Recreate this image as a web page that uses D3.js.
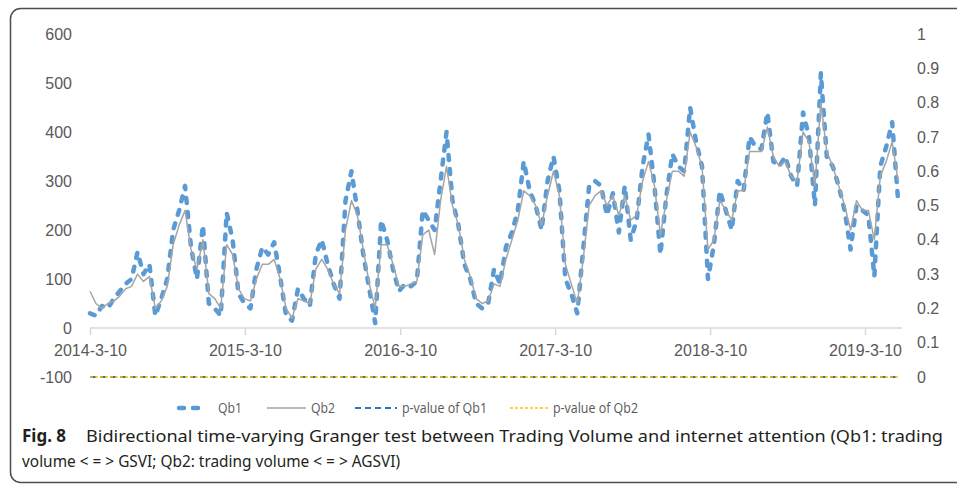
<!DOCTYPE html>
<html>
<head>
<meta charset="utf-8">
<script src="https://cdn.jsdelivr.net/npm/d3@7"></script>
<style>
  body { margin: 0; background: #fff; }
  svg { display: block; }
</style>
</head>
<body>
<div id="chart"></div>
<script>
// values, one point every two weeks from 2014-3-10
var startDate = "2014-03-10";
var stepDays = 14;

var qb1 = [30, 25, 45, 40, 60, 75, 90, 100, 155, 110, 130, 25, 60, 100, 200, 240, 290, 165, 100, 210,
  50, 40, 25, 235, 180, 70, 50, 40, 120, 165, 150, 175, 105, 25, 15, 80, 60, 45, 150, 180,
  130, 90, 60, 260, 320, 240, 150, 80, 10, 220, 180, 120, 75, 90, 85, 95, 240, 220, 200, 300,
  400, 260, 210, 130, 100, 50, 40, 50, 120, 90, 165, 195, 240, 340, 280, 250, 200, 300, 350, 280,
  100, 70, 30, 160, 290, 300, 290, 230, 275, 195, 290, 180, 220, 330, 395, 290, 150, 270, 355, 330,
  320, 450, 380, 330, 100, 170, 280, 240, 200, 300, 280, 390, 370, 365, 440, 340, 330, 350, 310, 290,
  440, 390, 250, 520, 350, 330, 290, 240, 160, 250, 240, 230, 105, 330, 370, 420, 260];

var qb2 = [75, 50, 40, 50, 55, 65, 80, 85, 110, 95, 105, 40, 55, 85, 170, 210, 240, 160, 120, 180,
  70, 60, 40, 170, 150, 80, 60, 55, 100, 130, 130, 140, 100, 40, 20, 60, 55, 50, 120, 140,
  120, 90, 70, 200, 260, 230, 160, 90, 40, 170, 170, 130, 85, 85, 90, 95, 190, 200, 150, 260,
  330, 250, 210, 140, 105, 60, 50, 55, 90, 85, 140, 180, 220, 280, 270, 250, 210, 270, 320, 270,
  130, 90, 50, 140, 250, 270, 280, 250, 270, 230, 270, 220, 230, 300, 340, 290, 190, 260, 320, 320,
  310, 400, 370, 330, 160, 180, 260, 240, 220, 280, 280, 360, 360, 360, 410, 350, 330, 340, 310, 300,
  400, 380, 290, 460, 360, 330, 290, 250, 200, 260, 240, 240, 180, 310, 340, 380, 300];

// p-values stay at 0 over the whole period
var pDates = ["2014-03-10", "2019-05-31"];
var pQb1 = [0, 0];
var pQb2 = [0, 0];

var yearTicks = ["2014-03-10", "2015-03-10", "2016-03-10", "2017-03-10", "2018-03-10", "2019-03-10"];
var leftTicks = [-100, 0, 100, 200, 300, 400, 500, 600];
var rightTicks = [0, 0.1, 0.2, 0.3, 0.4, 0.5, 0.6, 0.7, 0.8, 0.9, 1];

var svgWidth = 957;
var svgHeight = 494;

var parse = d3.timeParse("%Y-%m-%d");
var fmt = d3.timeFormat("%Y-%-m-%-d");

var svg = d3.select("#chart")
    .append("svg")
    .attr("width", svgWidth)
    .attr("height", svgHeight)
    .style("font-family", "'Open Sans', sans-serif");

// frame around figure + caption
svg.append("rect")
    .attr("x", 10.5)
    .attr("y", 8.5)
    .attr("width", 980)
    .attr("height", 474)
    .attr("rx", 10)
    .attr("fill", "none")
    .attr("stroke", "#4d4d4d")
    .attr("stroke-width", 1.5);

var x = d3.scaleTime()
    .domain([parse("2014-03-10"), parse("2019-03-10")])
    .range([90, 865]);

var yLeft = d3.scaleLinear().domain([-100, 600]).range([377, 34]);
var yRight = d3.scaleLinear().domain([0, 1]).range([377, 34]);

var s0 = parse(startDate);
var series = qb1.map(function(v, i) {
    return { date: d3.timeDay.offset(s0, i * stepDays), qb1: v, qb2: qb2[i] };
});
var pData = pDates.map(function(d, i) {
    return { date: parse(d), p1: pQb1[i], p2: pQb2[i] };
});

// x axis at value 0
var xAxis = d3.axisBottom(x)
    .tickValues(yearTicks.map(parse))
    .tickFormat(fmt)
    .tickSize(7)
    .tickSizeOuter(0);

var gx = svg.append("g")
    .attr("transform", "translate(0," + yLeft(0) + ")")
    .call(xAxis);
gx.select(".domain").remove();
gx.append("line")
    .attr("x1", 90).attr("x2", 902)
    .attr("stroke", "#d9d9d9").attr("stroke-width", 1.5);
gx.selectAll(".tick line").attr("stroke", "#d9d9d9").attr("stroke-width", 1.5);
gx.selectAll(".tick text")
    .attr("y", 17)
    .attr("fill", "#595959")
    .style("font-size", "16px");

var gl = svg.append("g")
    .attr("transform", "translate(72,0)")
    .call(d3.axisLeft(yLeft).tickValues(leftTicks).tickSize(0).tickPadding(0)
        .tickFormat(function(d) { return String(d); }));
gl.select(".domain").remove();
gl.selectAll("text").attr("fill", "#595959").style("font-size", "16px");

var gr = svg.append("g")
    .attr("transform", "translate(917,0)")
    .call(d3.axisRight(yRight).tickValues(rightTicks).tickSize(0).tickPadding(0)
        .tickFormat(function(d) { return String(+d.toFixed(1)); }));
gr.select(".domain").remove();
gr.selectAll("text").attr("fill", "#595959").style("font-size", "16px");

// p-value lines
var pLine1 = d3.line().x(function(d) { return x(d.date); }).y(function(d) { return yRight(d.p1); });
var pLine2 = d3.line().x(function(d) { return x(d.date); }).y(function(d) { return yRight(d.p2); });

svg.append("path").datum(pData)
    .attr("d", pLine1)
    .attr("fill", "none")
    .attr("stroke", "#2e75b6")
    .attr("stroke-width", 2)
    .attr("stroke-dasharray", "6,4");
svg.append("path").datum(pData)
    .attr("d", pLine2)
    .attr("fill", "none")
    .attr("stroke", "#ffc000")
    .attr("stroke-width", 1.5)
    .attr("stroke-dasharray", "3,2");

// Qb1 and Qb2
var line1 = d3.line().x(function(d) { return x(d.date); }).y(function(d) { return yLeft(d.qb1); });
var line2 = d3.line().x(function(d) { return x(d.date); }).y(function(d) { return yLeft(d.qb2); });

svg.append("path").datum(series)
    .attr("d", line1)
    .attr("fill", "none")
    .attr("stroke", "#5b9bd5")
    .attr("stroke-width", 4.5)
    .attr("stroke-linejoin", "round")
    .attr("stroke-linecap", "round")
    .attr("stroke-dasharray", "5,9");

svg.append("path").datum(series)
    .attr("d", line2)
    .attr("fill", "none")
    .attr("stroke", "#a5a5a5")
    .attr("stroke-width", 1.5)
    .attr("stroke-linejoin", "round");

// legend
var legendY = 408;
var legendItems = [
    { name: "Qb1", x1: 179, x2: 205, tx: 218, color: "#5b9bd5", w: 4.5, dash: "5,9", cap: "round" },
    { name: "Qb2", x1: 267, x2: 306, tx: 311, color: "#a5a5a5", w: 1.5, dash: null, cap: "butt" },
    { name: "p-value of Qb1", x1: 355, x2: 397, tx: 402, color: "#2e75b6", w: 2, dash: "6,4", cap: "butt" },
    { name: "p-value of Qb2", x1: 510, x2: 550, tx: 553, color: "#ffc000", w: 1.5, dash: "3,2", cap: "butt" }
];
var lg = svg.append("g");
legendItems.forEach(function(it) {
    lg.append("line")
        .attr("x1", it.x1).attr("x2", it.x2)
        .attr("y1", legendY).attr("y2", legendY)
        .attr("stroke", it.color)
        .attr("stroke-width", it.w)
        .attr("stroke-linecap", it.cap)
        .attr("stroke-dasharray", it.dash);
    lg.append("text")
        .attr("x", it.tx).attr("y", legendY)
        .attr("dy", "0.35em")
        .attr("fill", "#595959")
        .style("font-size", "15px")
        .attr("textLength", it.name.length > 3 ? 85 : 24)
        .attr("lengthAdjust", "spacingAndGlyphs")
        .text(it.name);
});

// caption
var cap = svg.append("g").style("font-family", "'Noto Sans', sans-serif").attr("fill", "#231f20");
cap.append("text")
    .attr("x", 22).attr("y", 442)
    .style("font-size", "17px")
    .style("font-weight", "bold")
    .text("Fig. 8");
cap.append("text")
    .attr("x", 86).attr("y", 442)
    .style("font-size", "17px")
    .attr("textLength", 857)
    .attr("lengthAdjust", "spacingAndGlyphs")
    .text("Bidirectional time-varying Granger test between Trading Volume and internet attention (Qb1: trading");
cap.append("text")
    .attr("x", 22).attr("y", 467)
    .style("font-size", "17px")
    .attr("textLength", 378)
    .attr("lengthAdjust", "spacingAndGlyphs")
    .text("volume < = > GSVI; Qb2: trading volume < = > AGSVI)");
</script>
</body>
</html>
